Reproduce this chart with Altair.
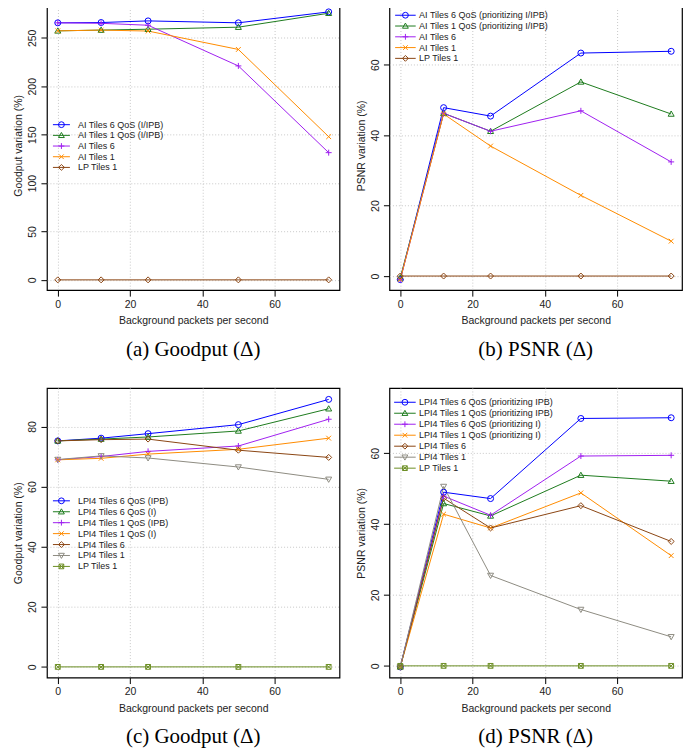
import altair as alt
import pandas as pd

x_vals = [0, 12, 25, 50, 75]

a_series = ["AI Tiles 6 QoS (I/IPB)", "AI Tiles 1 QoS (I/IPB)", "AI Tiles 6", "AI Tiles 1", "LP Tiles 1"]
a_values = [
    [265.5, 265.8, 267.5, 265.5, 276.8],
    [257.2, 258.0, 258.9, 261.0, 275.4],
    [265.5, 265.0, 263.0, 221.0, 131.4],
    [257.2, 258.0, 257.0, 238.0, 147.9],
    [0, 0, 0, 0, 0],
]

b_series = ["AI Tiles 6 QoS (prioritizing I/IPB)", "AI Tiles 1 QoS (prioritizing I/IPB)", "AI Tiles 6", "AI Tiles 1", "LP Tiles 1"]
b_values = [
    [-1.0, 47.8, 45.4, 63.3, 63.8],
    [-0.5, 46.2, 41.1, 55.1, 46.0],
    [-1.0, 46.2, 41.1, 46.9, 32.4],
    [-1.0, 46.0, 36.9, 22.9, 9.9],
    [0, 0, 0, 0, 0],
]

c_series = ["LPI4 Tiles 6 QoS (IPB)", "LPI4 Tiles 6 QoS (I)", "LPI4 Tiles 1 QoS (IPB)", "LPI4 Tiles 1 QoS (I)",
            "LPI4 Tiles 6", "LPI4 Tiles 1", "LP Tiles 1"]
c_values = [
    [75.2, 76.1, 77.6, 80.6, 89.0],
    [75.2, 75.8, 76.5, 78.5, 85.9],
    [68.9, 70.0, 71.7, 73.5, 82.4],
    [68.9, 69.4, 70.8, 72.4, 76.1],
    [75.2, 75.6, 75.8, 72.1, 69.7],
    [69.0, 70.2, 69.5, 66.5, 62.4],
    [0, 0, 0, 0, 0],
]

d_series = ["LPI4 Tiles 6 QoS (prioritizing IPB)", "LPI4 Tiles 1 QoS (prioritizing IPB)",
            "LPI4 Tiles 6 QoS (prioritizing I)", "LPI4 Tiles 1 QoS (prioritizing I)",
            "LPI4 Tiles 6", "LPI4 Tiles 1", "LP Tiles 1"]
d_values = [
    [-0.3, 49.0, 47.2, 69.8, 70.0],
    [-0.3, 45.8, 42.3, 53.8, 52.1],
    [-0.3, 47.9, 42.5, 59.2, 59.4],
    [-0.3, 42.8, 38.9, 48.8, 31.1],
    [-0.3, 47.3, 38.9, 45.2, 35.1],
    [-0.3, 50.6, 25.5, 15.9, 8.2],
    [0, 0, 0, 0, 0],
]

BLUE, GREEN, PURPLE, ORANGE, BROWN, GRAY, OLIVE = (
    "#0000FF", "#1E7B1E", "#A020F0", "#FF8C00", "#8B4513", "#8E8C82", "#6B8E23")

CIRCLE = "circle"
TRI_UP = "M0,-1L1,0.75L-1,0.75Z"
PLUS = "M-1,0L1,0M0,-1L0,1"
CROSS = "M-0.8,-0.8L0.8,0.8M-0.8,0.8L0.8,-0.8"
DIAMOND = "M0,-1L1,0L0,1L-1,0Z"
TRI_DOWN = "M0,1L1,-0.75L-1,-0.75Z"
SQX = "M-0.8,-0.8L0.8,-0.8L0.8,0.8L-0.8,0.8ZM-0.8,-0.8L0.8,0.8M-0.8,0.8L0.8,-0.8"

top_colors = [BLUE, GREEN, PURPLE, ORANGE, BROWN]
top_shapes = [CIRCLE, TRI_UP, PLUS, CROSS, DIAMOND]
bot_colors = [BLUE, GREEN, PURPLE, ORANGE, BROWN, GRAY, OLIVE]
bot_shapes = [CIRCLE, TRI_UP, PLUS, CROSS, DIAMOND, TRI_DOWN, SQX]

SANS = "Liberation Sans"
SERIF = "Liberation Serif"
W, H = 293, 290


def panel(series, values, colors, shapes, ydom, yticks, ytitle, caption, leg):
    rows = []
    for s, vals in zip(series, values):
        for xv, yv in zip(x_vals, vals):
            rows.append({"series": s, "x": xv, "y": yv})
    df = pd.DataFrame(rows)
    legdf = pd.DataFrame({"series": series, "row": list(range(len(series)))})

    color = alt.Color("series:N", scale=alt.Scale(domain=series, range=colors), legend=None)
    shape = alt.Shape("series:N", scale=alt.Scale(domain=series, range=shapes), legend=None)
    x = alt.X("x:Q", scale=alt.Scale(domain=[-3, 78], nice=False, zero=False),
              axis=alt.Axis(values=[0, 20, 40, 60], title="Background packets per second",
                            titlePadding=6))
    y = alt.Y("y:Q", scale=alt.Scale(domain=ydom, nice=False, zero=False),
              axis=alt.Axis(values=yticks, title=ytitle, labelAngle=-90, labelAlign="center",
                            labelBaseline="bottom"))
    base = alt.Chart(df)
    lines = base.mark_line(strokeWidth=1).encode(x=x, y=y, color=color)
    points = base.mark_point(filled=False, size=36, strokeWidth=1, opacity=1).encode(
        x=x, y=y, color=color, shape=shape)
    data_layer = alt.layer(lines, points)

    r0, dy, xa, xb, xm, xt = leg
    ly = alt.Y("row:Q", scale=alt.Scale(domain=[0, 1], range=[r0, r0 + dy], nice=False, zero=False),
               axis=None)
    lb = alt.Chart(legdf)
    l_rule = lb.mark_rule(strokeWidth=1).encode(x=alt.value(xa), x2=alt.value(xb), y=ly, color=color)
    l_pt = lb.mark_point(filled=False, size=34, strokeWidth=1, opacity=1).encode(
        x=alt.value(xm), y=ly, color=color, shape=shape)
    l_txt = lb.mark_text(align="left", baseline="middle", fontSize=9, font=SANS, color="#222222").encode(
        x=alt.value(xt), y=ly, text="series:N")
    legend_layer = alt.layer(l_rule, l_pt, l_txt)

    return alt.layer(data_layer, legend_layer).resolve_scale(y="independent").properties(
        width=W, height=H,
        title=alt.TitleParams(caption, orient="bottom", anchor="middle", font=SERIF, fontSize=21,
                              fontWeight="normal", color="black", offset=13))


pa = panel(a_series, a_values, top_colors, top_shapes, [-10.6, 288.5], [0, 50, 100, 150, 200, 250],
           "Goodput variation (%)", "(a) Goodput (Δ)", (124.3, 10.7, 6, 23, 14.5, 31))
pb = panel(b_series, b_values, top_colors, top_shapes, [-4.0, 78.2], [0, 20, 40, 60],
           "PSNR variation (%)", "(b) PSNR (Δ)", (14.7, 10.8, 5.7, 26.3, 16, 29.7))
pc = panel(c_series, c_values, bot_colors, bot_shapes, [-3.55, 92.8], [0, 20, 40, 60, 80],
           "Goodput variation (%)", "(c) Goodput (Δ)", (113, 10.95, 6, 23, 14.5, 31))
pd_ = panel(d_series, d_values, bot_colors, bot_shapes, [-3.3, 78.4], [0, 20, 40, 60],
            "PSNR variation (%)", "(d) PSNR (Δ)", (14.3, 11, 4.7, 26.3, 15.5, 29.7))

row1 = alt.hconcat(pa, pb, spacing=15).resolve_scale(color="independent", shape="independent")
row2 = alt.hconcat(pc, pd_, spacing=15).resolve_scale(color="independent", shape="independent")

chart = alt.vconcat(row1, row2, spacing=26).resolve_scale(
    color="independent", shape="independent"
).properties(
    padding={"left": 5, "top": -9, "right": 0, "bottom": 0}
).configure_view(
    stroke="black", strokeWidth=1.2
).configure_axis(
    domain=False, grid=True, gridColor="#C8C8C8", gridDash=[1, 2], gridWidth=1,
    ticks=True, tickColor="black", tickSize=6, tickWidth=1,
    labelFont=SANS, labelFontSize=10.5, labelColor="#222222", labelPadding=3,
    titleFont=SANS, titleFontSize=10.5, titleFontWeight="normal", titleColor="#222222", titlePadding=4,
).configure_title(
    color="black"
)

chart.save("out.html", embed_options={"renderer": "svg", "actions": False})
